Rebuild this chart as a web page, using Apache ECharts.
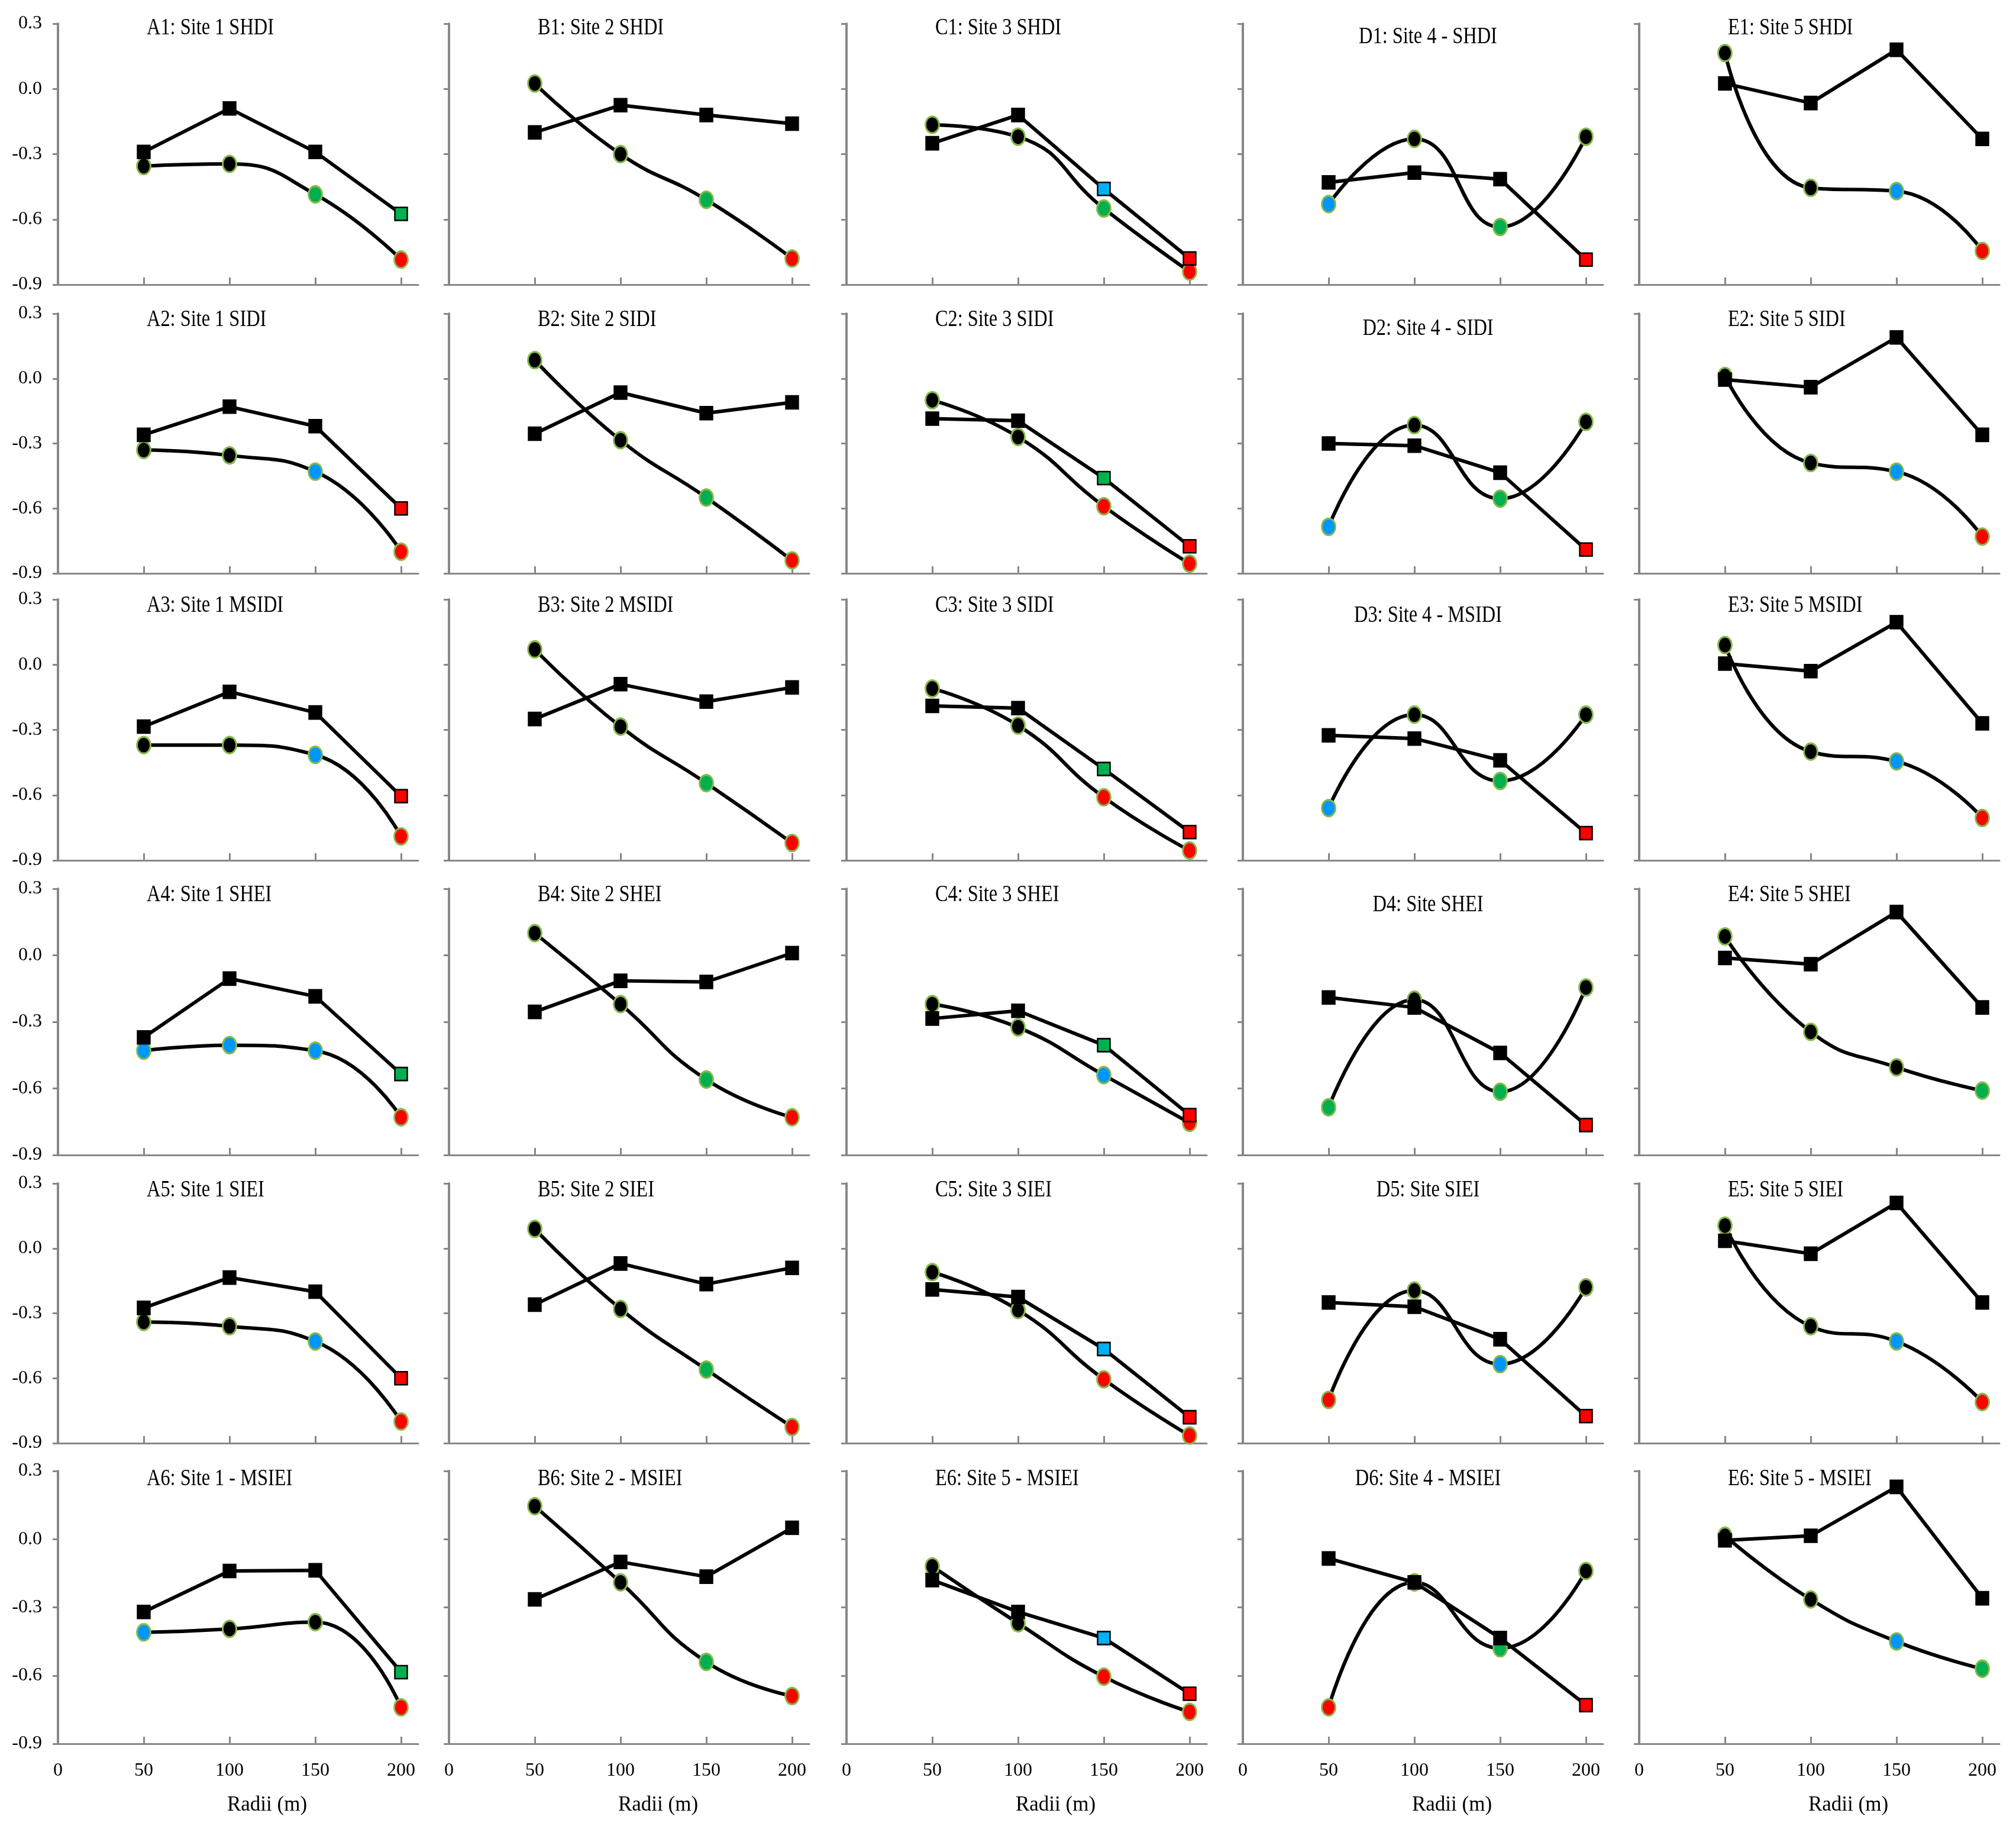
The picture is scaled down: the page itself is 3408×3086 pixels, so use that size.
<!DOCTYPE html>
<html><head><meta charset="utf-8">
<script src="https://cdn.jsdelivr.net/npm/echarts@6/dist/echarts.min.js"></script>
<style>html,body{margin:0;padding:0;background:#fff}#chart{width:3408px;height:3086px}</style>
</head><body><div id="chart"></div>
<script>
// ---------- data ----------
const radii = [50, 100, 150, 200];
const xTickLabels = [0, 50, 100, 150, 200];
const yTickLabels = [-0.9, -0.6, -0.3, 0.0, 0.3];
const xAxisTitle = 'Radii (m)';

const titlesRow1 = ['A1: Site 1 SHDI', 'B1: Site 2 SHDI', 'C1: Site 3 SHDI', 'D1: Site 4 - SHDI', 'E1: Site 5 SHDI'];
const titlesRow2 = ['A2: Site 1 SIDI', 'B2: Site 2 SIDI', 'C2: Site 3 SIDI', 'D2: Site 4 - SIDI', 'E2: Site 5 SIDI'];
const titlesRow3 = ['A3: Site 1 MSIDI', 'B3: Site 2 MSIDI', 'C3: Site 3 SIDI', 'D3: Site 4 - MSIDI', 'E3: Site 5 MSIDI'];
const titlesRow4 = ['A4: Site 1 SHEI', 'B4: Site 2 SHEI', 'C4: Site 3 SHEI', 'D4: Site SHEI', 'E4: Site 5 SHEI'];
const titlesRow5 = ['A5: Site 1 SIEI', 'B5: Site 2 SIEI', 'C5: Site 3 SIEI', 'D5: Site SIEI', 'E5: Site 5 SIEI'];
const titlesRow6 = ['A6: Site 1 - MSIEI', 'B6: Site 2 - MSIEI', 'E6: Site 5 - MSIEI', 'D6: Site 4 - MSIEI', 'E6: Site 5 - MSIEI'];

// square-marker series (straight lines) and circle-marker series (smoothed)
const sq_A1 = [-0.29, -0.09, -0.29, -0.575];  const ci_A1 = [-0.355, -0.345, -0.485, -0.785];
const sq_B1 = [-0.20, -0.075, -0.12, -0.16];  const ci_B1 = [0.025, -0.30, -0.51, -0.78];
const sq_C1 = [-0.25, -0.12, -0.46, -0.78];   const ci_C1 = [-0.165, -0.22, -0.55, -0.84];
const sq_D1 = [-0.43, -0.385, -0.415, -0.785]; const ci_D1 = [-0.53, -0.23, -0.635, -0.22];
const sq_E1 = [0.025, -0.065, 0.18, -0.23];   const ci_E1 = [0.165, -0.455, -0.47, -0.745];

const sq_A2 = [-0.26, -0.13, -0.22, -0.60];   const ci_A2 = [-0.33, -0.355, -0.43, -0.80];
const sq_B2 = [-0.255, -0.065, -0.16, -0.11]; const ci_B2 = [0.085, -0.285, -0.55, -0.84];
const sq_C2 = [-0.185, -0.195, -0.46, -0.775]; const ci_C2 = [-0.10, -0.27, -0.59, -0.855];
const sq_D2 = [-0.30, -0.31, -0.435, -0.79];  const ci_D2 = [-0.685, -0.215, -0.555, -0.20];
const sq_E2 = [-0.005, -0.04, 0.19, -0.26];   const ci_E2 = [0.012, -0.39, -0.43, -0.73];

const sq_A3 = [-0.285, -0.125, -0.22, -0.605]; const ci_A3 = [-0.37, -0.37, -0.415, -0.79];
const sq_B3 = [-0.25, -0.09, -0.17, -0.105];  const ci_B3 = [0.07, -0.285, -0.545, -0.82];
const sq_C3 = [-0.19, -0.20, -0.48, -0.77];   const ci_C3 = [-0.11, -0.28, -0.61, -0.855];
const sq_D3 = [-0.325, -0.34, -0.44, -0.775]; const ci_D3 = [-0.66, -0.23, -0.535, -0.23];
const sq_E3 = [0.005, -0.03, 0.195, -0.27];   const ci_E3 = [0.09, -0.40, -0.445, -0.705];

const sq_A4 = [-0.37, -0.105, -0.185, -0.535]; const ci_A4 = [-0.43, -0.405, -0.43, -0.73];
const sq_B4 = [-0.255, -0.115, -0.12, 0.01];  const ci_B4 = [0.10, -0.22, -0.56, -0.73];
const sq_C4 = [-0.285, -0.25, -0.405, -0.72]; const ci_C4 = [-0.22, -0.325, -0.54, -0.755];
const sq_D4 = [-0.19, -0.235, -0.44, -0.765]; const ci_D4 = [-0.685, -0.20, -0.615, -0.145];
const sq_E4 = [-0.012, -0.04, 0.195, -0.235]; const ci_E4 = [0.085, -0.345, -0.505, -0.61];

const sq_A5 = [-0.275, -0.135, -0.20, -0.60]; const ci_A5 = [-0.34, -0.36, -0.43, -0.80];
const sq_B5 = [-0.26, -0.07, -0.165, -0.09];  const ci_B5 = [0.09, -0.28, -0.56, -0.825];
const sq_C5 = [-0.19, -0.225, -0.465, -0.78]; const ci_C5 = [-0.11, -0.285, -0.605, -0.865];
const sq_D5 = [-0.25, -0.27, -0.42, -0.775];  const ci_D5 = [-0.70, -0.195, -0.535, -0.18];
const sq_E5 = [0.035, -0.025, 0.21, -0.25];   const ci_E5 = [0.105, -0.36, -0.43, -0.71];

const sq_A6 = [-0.32, -0.14, -0.137, -0.585]; const ci_A6 = [-0.41, -0.395, -0.365, -0.74];
const sq_B6 = [-0.265, -0.10, -0.165, 0.05];  const ci_B6 = [0.145, -0.19, -0.54, -0.69];
const sq_C6 = [-0.18, -0.32, -0.435, -0.68];  const ci_C6 = [-0.12, -0.37, -0.605, -0.76];
const sq_D6 = [-0.085, -0.19, -0.435, -0.73]; const ci_D6 = [-0.74, -0.19, -0.48, -0.14];
const sq_E6 = [-0.005, 0.015, 0.23, -0.26];   const ci_E6 = [0.015, -0.265, -0.45, -0.57];

// marker colour codes per point (k black, g green, b blue, r red): [squares, circles]
const codesRow1 = [['kkkg','kkgr'], ['kkkk','kkgr'], ['kkbr','kkgr'], ['kkkr','bkgk'], ['kkkk','kkbr']];
const codesRow2 = [['kkkr','kkbr'], ['kkkk','kkgr'], ['kkgr','kkrr'], ['kkkr','bkgk'], ['kkkk','kkbr']];
const codesRow3 = [['kkkr','kkbr'], ['kkkk','kkgr'], ['kkgr','kkrr'], ['kkkr','bkgk'], ['kkkk','kkbr']];
const codesRow4 = [['kkkg','bbbr'], ['kkkk','kkgr'], ['kkgr','kkbr'], ['kkkr','gkgk'], ['kkkk','kkkg']];
const codesRow5 = [['kkkr','kkbr'], ['kkkk','kkgr'], ['kkbr','kkrr'], ['kkkr','rkbk'], ['kkkk','kkbr']];
const codesRow6 = [['kkkg','bkkr'], ['kkkk','kkgr'], ['kkbr','kkrr'], ['kkkr','rkgk'], ['kkkk','kkbg']];

// ---------- assembly ----------
const titleRows = [titlesRow1, titlesRow2, titlesRow3, titlesRow4, titlesRow5, titlesRow6];
const codeRows = [codesRow1, codesRow2, codesRow3, codesRow4, codesRow5, codesRow6];
const squareRows = [
  [sq_A1, sq_B1, sq_C1, sq_D1, sq_E1], [sq_A2, sq_B2, sq_C2, sq_D2, sq_E2],
  [sq_A3, sq_B3, sq_C3, sq_D3, sq_E3], [sq_A4, sq_B4, sq_C4, sq_D4, sq_E4],
  [sq_A5, sq_B5, sq_C5, sq_D5, sq_E5], [sq_A6, sq_B6, sq_C6, sq_D6, sq_E6]];
const circleRows = [
  [ci_A1, ci_B1, ci_C1, ci_D1, ci_E1], [ci_A2, ci_B2, ci_C2, ci_D2, ci_E2],
  [ci_A3, ci_B3, ci_C3, ci_D3, ci_E3], [ci_A4, ci_B4, ci_C4, ci_D4, ci_E4],
  [ci_A5, ci_B5, ci_C5, ci_D5, ci_E5], [ci_A6, ci_B6, ci_C6, ci_D6, ci_E6]];

const colLefts = [98, 759, 1431, 2101, 2771];
const gridW = 609;
const rowTops = [40, 530, 1013, 1502, 2000, 2486];
const rowHeights = [441, 439, 441, 450, 439, 461];
const titleY = [48, 541, 1024, 1513, 2012, 2500];
const titleYD = [63, 556, 1041, 1530, 2012, 2500];

const FONT = '"Liberation Serif", "Times New Roman", serif';
const AXC = '#878787';
const sqColors = {k: '#000000', g: '#00b050', b: '#00b0f0', r: '#ff0000'};
const ciColors = {k: '#000000', g: '#00b050', b: '#0096ff', r: '#ff0000'};

const grids = [], xAxes = [], yAxes = [], series = [], graphics = [];
let p = 0;
for (let r = 0; r < 6; r++) {
  for (let c = 0; c < 5; c++) {
    grids.push({left: colLefts[c], top: rowTops[r], width: gridW, height: rowHeights[r], containLabel: false});
    const bottom = r === 5;
    xAxes.push({
      gridIndex: p, type: 'value', min: 0, max: 210, interval: 50,
      axisLine: {show: true, onZero: false, lineStyle: {color: AXC, width: 3}},
      axisTick: {show: true, inside: true, length: 12, customValues: radii, lineStyle: {color: AXC, width: 3}},
      axisLabel: {show: bottom, customValues: xTickLabels, margin: 30, fontFamily: FONT, fontSize: 32, color: '#000'},
      splitLine: {show: false},
      name: bottom ? xAxisTitle : '', nameLocation: 'middle', nameGap: 86,
      nameTextStyle: {fontFamily: FONT, fontSize: 35, color: '#000', padding: [0, 0, 0, 98]}
    });
    yAxes.push({
      gridIndex: p, type: 'value', min: yTickLabels[0], max: yTickLabels[yTickLabels.length - 1], interval: 0.3,
      axisLine: {show: true, onZero: false, lineStyle: {color: AXC, width: 4}},
      axisTick: {show: true, inside: false, length: 9, lineStyle: {color: AXC, width: 3}},
      axisLabel: {show: c === 0, margin: 27, fontFamily: FONT, fontSize: 32, color: '#000',
                  formatter: v => (Math.abs(v) < 1e-9 ? 0 : v).toFixed(1)},
      splitLine: {show: false}
    });
    const codes = codeRows[r][c];
    const ci = circleRows[r][c], sq = squareRows[r][c];
    series.push({
      type: 'line', xAxisIndex: p, yAxisIndex: p, smooth: 0.5, z: 2,
      symbol: 'circle', symbolSize: [23, 28], animation: false, silent: true,
      lineStyle: {color: '#000', width: 6},
      itemStyle: {color: '#000', borderColor: '#86b84a', borderWidth: 3},
      data: radii.map((x, i) => ({value: [x, ci[i]], itemStyle: {color: ciColors[codes[1][i]]}}))
    });
    series.push({
      type: 'line', xAxisIndex: p, yAxisIndex: p, smooth: false, z: 3,
      symbol: 'rect', symbolSize: [21, 22], animation: false, silent: true,
      lineStyle: {color: '#000', width: 6},
      itemStyle: {color: '#000', borderColor: '#000', borderWidth: 2.5},
      data: radii.map((x, i) => ({value: [x, sq[i]], itemStyle: {color: sqColors[codes[0][i]]}}))
    });
    const isD = c === 3;
    graphics.push({
      type: 'text', x: isD ? colLefts[c] + 313 : colLefts[c] + 150, y: isD ? titleYD[r] : titleY[r],
      scaleX: 0.83, z: 10,
      style: {text: titleRows[r][c], font: '39px ' + FONT, fill: '#000',
              align: isD ? 'center' : 'left', textAlign: isD ? 'center' : 'left',
              verticalAlign: 'middle', textVerticalAlign: 'middle'}
    });
    p++;
  }
}

const chart = echarts.init(document.getElementById('chart'), null, {renderer: 'canvas'});
chart.setOption({
  backgroundColor: '#ffffff',
  animation: false,
  grid: grids, xAxis: xAxes, yAxis: yAxes, series: series,
  graphic: graphics
});
</script></body></html>
